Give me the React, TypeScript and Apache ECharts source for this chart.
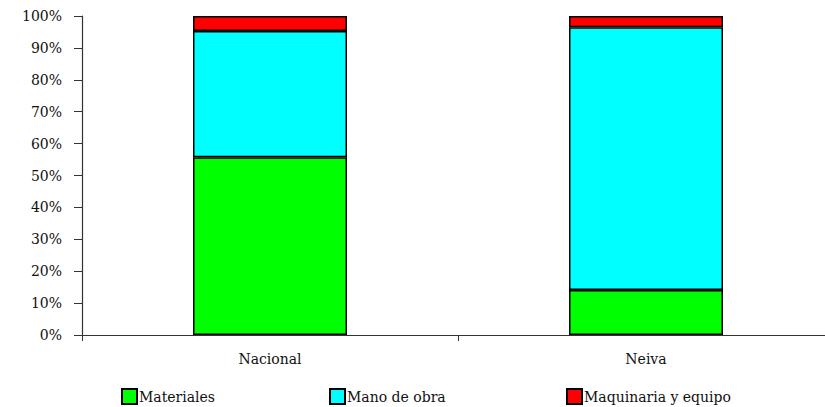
import React, { useEffect, useRef } from "react";
import * as echarts from "echarts";

const categories = ["Nacional", "Neiva"];
const materiales = [55.7, 14.1];
const manoDeObra = [39.6, 82.4];
const maquinaria = [4.7, 3.5];
const yTicks = [0, 10, 20, 30, 40, 50, 60, 70, 80, 90, 100];

const FONT = "DejaVu Serif";

export default function App() {
  const ref = useRef<HTMLDivElement>(null);
  useEffect(() => {
    const chart = echarts.init(ref.current!, null, { renderer: "svg" });
    const barStyle = (color: string) => ({
      color,
      borderColor: "#000",
      borderWidth: 1.5,
    });
    const legendBase = {
      top: 388,
      padding: 0,
      icon: "rect",
      itemWidth: 15,
      itemHeight: 15,
      itemGap: 0,
      textStyle: { fontFamily: FONT, fontSize: 14, color: "#111", padding: [0, 0, 0, -3] },
    };
    chart.setOption({
      animation: false,
      grid: { left: 82, top: 16, width: 752, height: 319, outerBoundsMode: "none", containLabel: false },
      legend: [
        { ...legendBase, left: 121, data: ["Materiales"] },
        { ...legendBase, left: 329, data: ["Mano de obra"] },
        { ...legendBase, left: 566, data: ["Maquinaria y equipo"] },
      ],
      xAxis: {
        type: "category",
        data: categories,
        axisLine: { lineStyle: { color: "#333", width: 1.2 } },
        axisTick: { show: true, length: 6, lineStyle: { color: "#333" } },
        axisLabel: { fontFamily: FONT, fontSize: 14, color: "#111", margin: 17 },
      },
      yAxis: {
        type: "value",
        min: 0,
        max: 100,
        interval: 10,
        axisLine: { show: true, lineStyle: { color: "#333", width: 1.2 } },
        axisTick: { show: true, length: 8, lineStyle: { color: "#333" } },
        splitLine: { show: false },
        axisLabel: {
          fontFamily: FONT,
          fontSize: 14,
          color: "#111",
          margin: 20,
          formatter: (v: number) => (yTicks.includes(v) ? v + "%" : ""),
        },
      },
      series: [
        { name: "Materiales", type: "bar", stack: "a", barWidth: 154, data: materiales, itemStyle: barStyle("#00ff00") },
        { name: "Mano de obra", type: "bar", stack: "a", barWidth: 154, data: manoDeObra, itemStyle: barStyle("#00ffff") },
        { name: "Maquinaria y equipo", type: "bar", stack: "a", barWidth: 154, data: maquinaria, itemStyle: barStyle("#ff0000") },
      ],
    });
    return () => chart.dispose();
  }, []);
  return <div ref={ref} style={{ width: 825, height: 407, position: "absolute", left: 0, top: 0 }} />;
}
